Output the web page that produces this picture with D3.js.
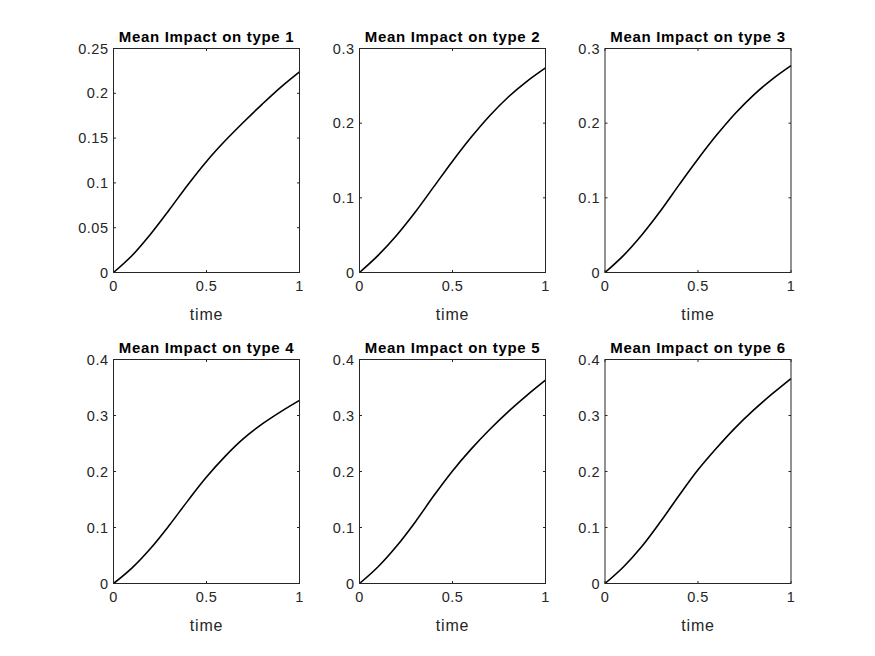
<!DOCTYPE html>
<html>
<head>
<meta charset="utf-8">
<script src="https://cdn.jsdelivr.net/npm/d3@7"></script>
<style>
  body { margin: 0; background: #fff; }
  svg text { font-family: "Liberation Sans", Arial, Helvetica, sans-serif; }
</style>
</head>
<body>
<div id="chart"></div>
<script>
// time samples shared by all panels
var time = [0, 0.1, 0.2, 0.3, 0.4, 0.5, 0.6, 0.7, 0.8, 0.9, 1.0];

// mean impact
var impact1 = [0, 0.019, 0.043, 0.070, 0.098, 0.124, 0.147, 0.168, 0.188, 0.207, 0.224];
var impact2 = [0, 0.023, 0.050, 0.081, 0.115, 0.149, 0.181, 0.210, 0.235, 0.256, 0.274];
var impact3 = [0, 0.023, 0.051, 0.083, 0.118, 0.152, 0.184, 0.213, 0.238, 0.259, 0.277];
var impact4 = [0, 0.028, 0.063, 0.104, 0.148, 0.190, 0.227, 0.259, 0.285, 0.307, 0.327];
var impact5 = [0, 0.030, 0.067, 0.110, 0.157, 0.201, 0.240, 0.275, 0.307, 0.336, 0.363];
var impact6 = [0, 0.030, 0.067, 0.111, 0.158, 0.203, 0.242, 0.278, 0.310, 0.339, 0.366];

var titles = ["Mean Impact on type 1", "Mean Impact on type 2", "Mean Impact on type 3",
              "Mean Impact on type 4", "Mean Impact on type 5", "Mean Impact on type 6"];
var yMax = [0.25, 0.3, 0.3, 0.4, 0.4, 0.4];
var yTicks = [
    [0, 0.05, 0.1, 0.15, 0.2, 0.25],
    [0, 0.1, 0.2, 0.3],
    [0, 0.1, 0.2, 0.3],
    [0, 0.1, 0.2, 0.3, 0.4],
    [0, 0.1, 0.2, 0.3, 0.4],
    [0, 0.1, 0.2, 0.3, 0.4]
];
var xTicks = [0, 0.5, 1];
var series = [impact1, impact2, impact3, impact4, impact5, impact6];

var width = 875, height = 656;
var colLeft = [113.5, 359.5, 605];
var rowTop = [48.5, 359.5];
var pw = 186, ph = 224;
var axisColor = "#262626";

var svg = d3.select("#chart").append("svg")
    .attr("width", width)
    .attr("height", height);

function fmt(v) {
    return d3.format("~g")(v);
}

for (let i = 0; i < 6; i++) {
    var x0 = colLeft[i % 3], y0 = rowTop[Math.floor(i / 3)];

    var xScale = d3.scaleLinear().domain([0, 1]).range([x0, x0 + pw]);
    var yScale = d3.scaleLinear().domain([0, yMax[i]]).range([y0 + ph, y0]);

    var g = svg.append("g");

    // line
    var curveFunc = d3.line()
        .curve(d3.curveCatmullRom.alpha(0.5))
        .x(function(d, k) { return xScale(time[k]); })
        .y(function(d) { return yScale(d); });

    g.append("path")
        .attr("d", curveFunc(series[i]))
        .attr("stroke", "black")
        .attr("stroke-width", 1.6)
        .attr("fill", "none");

    // box
    g.append("rect")
        .attr("x", x0).attr("y", y0)
        .attr("width", pw).attr("height", ph)
        .attr("fill", "none")
        .attr("stroke", axisColor)
        .attr("stroke-width", 1);

    // inward ticks on all four sides
    var tl = 2.5;
    xTicks.forEach(function(t) {
        var xx = xScale(t);
        g.append("line").attr("x1", xx).attr("x2", xx).attr("y1", y0 + ph).attr("y2", y0 + ph - tl)
            .attr("stroke", axisColor);
        g.append("line").attr("x1", xx).attr("x2", xx).attr("y1", y0).attr("y2", y0 + tl)
            .attr("stroke", axisColor);
        g.append("text")
            .attr("x", xx).attr("y", y0 + ph + 18.5)
            .attr("text-anchor", "middle")
            .attr("font-size", "14.5px")
            .attr("letter-spacing", "0.5px")
            .attr("fill", axisColor)
            .text(fmt(t));
    });
    yTicks[i].forEach(function(t) {
        var yy = yScale(t);
        g.append("line").attr("x1", x0).attr("x2", x0 + tl).attr("y1", yy).attr("y2", yy)
            .attr("stroke", axisColor);
        g.append("line").attr("x1", x0 + pw).attr("x2", x0 + pw - tl).attr("y1", yy).attr("y2", yy)
            .attr("stroke", axisColor);
        g.append("text")
            .attr("x", x0 - 5).attr("y", yy + 5)
            .attr("text-anchor", "end")
            .attr("font-size", "14.5px")
            .attr("letter-spacing", "0.5px")
            .attr("fill", axisColor)
            .text(fmt(t));
    });

    // title
    g.append("text")
        .attr("x", x0 + pw / 2).attr("y", y0 - 7)
        .attr("text-anchor", "middle")
        .attr("font-size", "15px")
        .attr("font-weight", "bold")
        .attr("letter-spacing", "0.7px")
        .attr("fill", "black")
        .text(titles[i]);

    // x label
    g.append("text")
        .attr("x", x0 + pw / 2).attr("y", y0 + ph + 47.5)
        .attr("text-anchor", "middle")
        .attr("font-size", "16px")
        .attr("letter-spacing", "0.8px")
        .attr("fill", axisColor)
        .text("time");
}
</script>
</body>
</html>
